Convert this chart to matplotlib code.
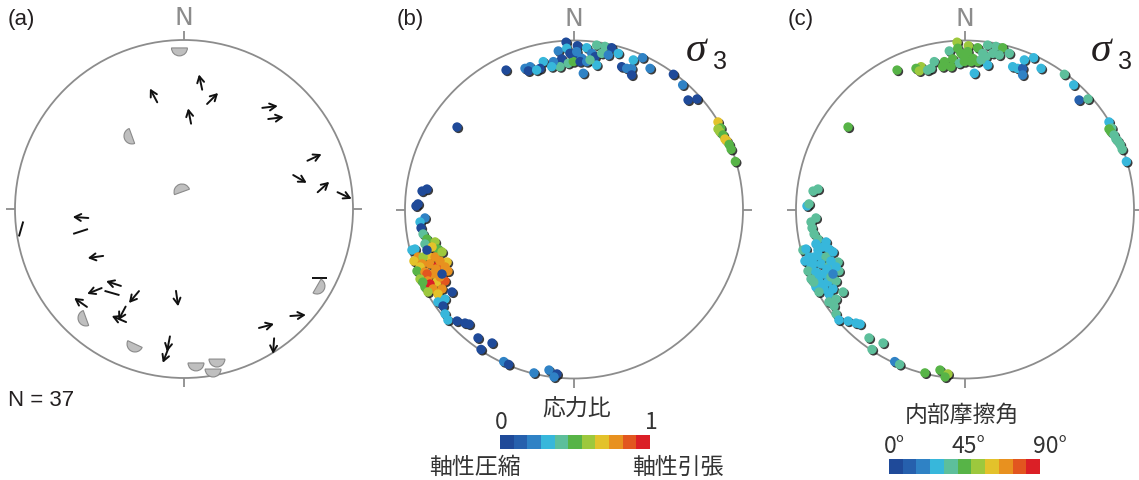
import numpy as np
import matplotlib
matplotlib.use('Agg')
import matplotlib.pyplot as plt
from matplotlib.patches import Circle, Wedge
from matplotlib.colors import ListedColormap, Normalize
from matplotlib import transforms
import matplotlib.colorbar as mcolorbar

# ---------------- data (equal-area net coordinates, primitive circle radius = 1) -------------
# Panel (a): slip directions
arrow_x = [0.098, -0.180, 0.169, 0.033, 0.509, 0.544, 0.772, 0.686, 0.825, 0.950,
           -0.612, -0.524, -0.417, -0.530, -0.612, -0.296, -0.367, -0.385, -0.041,
           -0.092, -0.109, 0.675, 0.488, 0.530]
arrow_y = [0.751, 0.672, 0.654, 0.550, 0.604, 0.538, 0.305, 0.178, 0.130, 0.080,
           -0.050, -0.284, -0.441, -0.485, -0.553, -0.521, -0.618, -0.651, -0.530,
           -0.799, -0.867, -0.630, -0.692, -0.811]
arrow_az = [348, 332, 45, 349, 83, 83, 65, 120, 48, 115,
            274, 262, 288, 248, 305, 220, 208, 293, 172,
            191, 201, 86, 75, 184]
line_x = [-0.964, -0.612, -0.426, 0.802]
line_y = [-0.118, -0.133, -0.497, -0.408]
line_az = [16, 72, 106, 90]
semi_x = [-0.027, -0.308, -0.012, -0.580, -0.290, 0.071, 0.195, 0.172, 0.787]
semi_y = [0.953, 0.432, 0.101, -0.645, -0.799, -0.911, -0.888, -0.947, -0.456]
semi_rot = [180, 110, 20, 110, 155, 180, 180, 180, 240]
n_total = 37

# Panels (b), (c): sigma-3 axes, stress ratio and internal friction angle
sig3_x = [-0.047, -0.093, -0.043, 0.020, 0.075, 0.134, 0.183, 0.223, 0.262, -0.004,
          0.045, 0.105, 0.124, 0.164, 0.203, -0.073, -0.034, -0.083, -0.122, -0.182,
          -0.132, -0.201, -0.260, -0.290, -0.270, -0.402, -0.221, -0.004, 0.036, 0.075,
          0.134, 0.095, 0.055, 0.282, 0.312, 0.341, 0.351, 0.406, 0.450, 0.341,
          0.588, 0.643, -0.024, 0.016, -0.692, 0.675, 0.728,
          0.852, 0.868, 0.852, 0.864, 0.882, 0.893, 0.905, 0.918, 0.930, 0.955,
          -0.899, -0.870, -0.935, -0.923, -0.882, -0.911, -0.905, -0.893, -0.959,
          -0.870, -0.941, -0.822, -0.805, -0.882, -0.840, -0.923, -0.864, -0.822, -0.781,
          -0.893, -0.947, -0.899, -0.852, -0.805, -0.751, -0.793, -0.911, -0.929, -0.882,
          -0.834, -0.817, -0.870, -0.746, -0.763, -0.911, -0.864, -0.811, -0.763, -0.793,
          -0.882, -0.852, -0.895, -0.834, -0.781, -0.864, -0.805, -0.781, -0.722, -0.763,
          -0.870,
          -0.805, -0.775, -0.763, -0.746, -0.692, -0.645, -0.621, -0.568, -0.485, -0.550,
          -0.416, -0.387, -0.237, -0.148, -0.101, -0.118]
sig3_y = [0.990, 0.938, 0.954, 0.969, 0.957, 0.973, 0.965, 0.957, 0.924, 0.904,
          0.895, 0.924, 0.904, 0.924, 0.914, 0.891, 0.865, 0.845, 0.875, 0.875,
          0.845, 0.835, 0.845, 0.835, 0.820, 0.825, 0.825, 0.875, 0.875, 0.875,
          0.855, 0.885, 0.806, 0.845, 0.835, 0.835, 0.885, 0.898, 0.835, 0.796,
          0.800, 0.737, 0.924, 0.934, 0.488, 0.648, 0.654,
          0.518, 0.482, 0.476, 0.459, 0.441, 0.417, 0.405, 0.385, 0.356, 0.284,
          0.109, 0.121, 0.021, 0.033, -0.050, -0.074, -0.109, -0.145, -0.240,
          -0.175, -0.234, -0.192, -0.234, -0.204, -0.222, -0.281, -0.275, -0.281, -0.251,
          -0.281, -0.305, -0.322, -0.322, -0.334, -0.311, -0.305, -0.340, -0.364, -0.370,
          -0.382, -0.352, -0.382, -0.364, -0.340, -0.411, -0.423, -0.429, -0.423, -0.399,
          -0.459, -0.441, -0.430, -0.470, -0.470, -0.488, -0.500, -0.382, -0.488, -0.530,
          -0.240,
          -0.547, -0.571, -0.618, -0.654, -0.660, -0.672, -0.678, -0.760, -0.790, -0.828,
          -0.900, -0.917, -0.967, -0.950, -0.973, -0.991]
stress_ratio = [0.04, 0.22, 0.31, 0.04, 0.31, 0.40, 0.40, 0.04, 0.31, 0.04,
                0.22, 0.22, 0.04, 0.40, 0.22, 0.04, 0.40, 0.40, 0.22, 0.31,
                0.31, 0.04, 0.22, 0.22, 0.04, 0.04, 0.31, 0.50, 0.04, 0.22,
                0.31, 0.40, 0.22, 0.04, 0.22, 0.22, 0.31, 0.22, 0.22, 0.04,
                0.04, 0.22, 0.04, 0.22, 0.04, 0.04, 0.04,
                0.68, 0.50, 0.59, 0.59, 0.50, 0.68, 0.68, 0.50, 0.50, 0.50,
                0.04, 0.04, 0.04, 0.04, 0.22, 0.31, 0.04, 0.40, 0.31,
                0.50, 0.31, 0.59, 0.50, 0.40, 0.68, 0.77, 0.68, 0.77, 0.59,
                0.59, 0.68, 0.77, 0.77, 0.96, 0.68, 0.77, 0.68, 0.50, 0.77,
                0.77, 0.77, 0.86, 0.77, 0.77, 0.59, 0.77, 0.68, 0.86, 0.77,
                0.50, 0.96, 0.50, 0.77, 0.77, 0.59, 0.68, 0.04, 0.04, 0.31,
                0.04,
                0.31, 0.04, 0.31, 0.31, 0.04, 0.04, 0.04, 0.04, 0.04, 0.04,
                0.22, 0.04, 0.22, 0.22, 0.04, 0.22]
friction_deg = [53, 37, 45, 53, 45, 37, 37, 45, 37, 45,
                45, 37, 37, 37, 37, 45, 37, 45, 45, 37,
                45, 37, 53, 45, 53, 45, 37, 45, 45, 45,
                29, 37, 29, 29, 29, 12, 29, 29, 29, 20,
                37, 29, 45, 45, 45, 12, 37,
                29, 37, 45, 45, 37, 37, 37, 37, 37, 29,
                37, 37, 29, 37, 37, 37, 37, 37, 37,
                37, 29, 29, 29, 29, 29, 29, 29, 37, 29,
                29, 29, 29, 29, 37, 37, 29, 29, 37, 29,
                29, 29, 29, 37, 29, 37, 29, 29, 37, 37,
                29, 29, 37, 29, 29, 37, 29, 20, 37, 37,
                29,
                37, 37, 37, 29, 29, 29, 29, 37, 37, 37,
                20, 37, 45, 45, 53, 45]

bin_colors = ['#1f4a99', '#2660ad', '#2f82c5', '#37b7db', '#5dbf9b', '#57b447',
              '#9dc83d', '#e3c22b', '#e8911f', '#e2561f', '#db1f26']

# ---------------- figure ----------------
W, H = 1139, 481
fig = plt.figure(figsize=(W / 100, H / 100), dpi=100)
cmap = ListedColormap(bin_colors)
GRAY = '#8c8c8c'
SANS = ['Liberation Sans', 'DejaVu Sans']
CJK = ['Noto Sans CJK JP', 'DejaVu Sans']


def net_axes(cx, cy, R=169, pad=1.08):
    h = R * pad
    ax = fig.add_axes([(cx - h) / W, (H - cy - h) / H, 2 * h / W, 2 * h / H])
    ax.set_xlim(-pad, pad)
    ax.set_ylim(-pad, pad)
    ax.axis('off')
    ax.add_patch(Circle((0, 0), 1, fill=False, ec=GRAY, lw=1.3, zorder=1))
    for az in (0, 90, 180, 270):
        s, c = np.sin(np.radians(az)), np.cos(np.radians(az))
        ax.plot([s, s * 1.055], [c, c * 1.055], color=GRAY, lw=1.3,
                clip_on=False, solid_capstyle='butt')
    ax.text(0, 1.135, 'N', ha='center', va='center', fontsize=18,
            color=GRAY, family=['DejaVu Sans'], clip_on=False)
    return ax


# ----- panel (a)
axa = net_axes(184, 210)
L = 0.092
for x, y, az in zip(arrow_x, arrow_y, arrow_az):
    dx, dy = np.sin(np.radians(az)), np.cos(np.radians(az))
    axa.annotate('', xy=(x + dx * L / 2, y + dy * L / 2),
                 xytext=(x - dx * L / 2, y - dy * L / 2),
                 arrowprops=dict(arrowstyle='->,head_length=0.45,head_width=0.25',
                                 lw=1.4, color='#111111', shrinkA=0, shrinkB=0))
for x, y, az in zip(line_x, line_y, line_az):
    dx, dy = np.sin(np.radians(az)), np.cos(np.radians(az))
    axa.plot([x - dx * L / 2, x + dx * L / 2], [y - dy * L / 2, y + dy * L / 2],
             color='#111111', lw=1.4, solid_capstyle='butt')
for x, y, rot in zip(semi_x, semi_y, semi_rot):
    axa.add_patch(Wedge((x, y), 0.047, rot, rot + 180, facecolor='#bfbfbf',
                        edgecolor='#8a8a8a', lw=0.8, zorder=3))

fig.text(8 / W, 1 - 19 / H, '(a)', ha='left', va='center', fontsize=16,
         family=SANS, color='#231f20')
fig.text(8 / W, 1 - 400 / H, f'N = {n_total}', ha='left', va='center',
         fontsize=16, family=SANS, color='#231f20')


# ----- panels (b), (c)
def sigma_panel(cx, values, vmax, label, lx, sx):
    ax = net_axes(cx, 210.5)
    norm = Normalize(0, vmax)
    shadow = transforms.offset_copy(ax.transData, fig=fig, x=1.4, y=-1.4, units='dots')
    ax.scatter(sig3_x, sig3_y, s=46, color='#1a1a1a', alpha=0.85,
               edgecolors='none', transform=shadow, zorder=4)
    ax.scatter(sig3_x, sig3_y, s=46, c=values, cmap=cmap, norm=norm,
               edgecolors='none', zorder=5)
    fig.text(lx / W, 1 - 19 / H, label, ha='left', va='center', fontsize=16,
             family=SANS, color='#231f20')
    fig.text(sx / W, 1 - 51 / H, 'σ', ha='left', va='center', fontsize=30,
             style='italic', family=['Liberation Serif', 'DejaVu Serif'], color='#231f20')
    fig.text((sx + 27) / W, 1 - 62 / H, '3', ha='left', va='center', fontsize=18,
             family=SANS, color='#231f20')
    return ax, norm


axb, norm_b = sigma_panel(574, stress_ratio, 1.0, '(b)', 397, 686)
axc, norm_c = sigma_panel(965, friction_deg, 90.0, '(c)', 788, 1091)

# colorbars
caxb = fig.add_axes([500 / W, 1 - 450 / H, 150 / W, 14 / H])
cbb = mcolorbar.ColorbarBase(caxb, cmap=cmap, norm=norm_b, orientation='horizontal')
cbb.set_ticks([])
cbb.outline.set_visible(False)
caxc = fig.add_axes([889 / W, 1 - 475 / H, 151 / W, 15 / H])
cbc = mcolorbar.ColorbarBase(caxc, cmap=cmap, norm=norm_c, orientation='horizontal')
cbc.set_ticks([])
cbc.outline.set_visible(False)

TXT = '#333333'
fig.text(577 / W, 1 - 409 / H, '応力比', ha='center', va='center', fontsize=16.5,
         family=CJK, color=TXT)
fig.text(501 / W, 1 - 423 / H, '0', ha='center', va='center', fontsize=16.5,
         family=CJK, color=TXT)
fig.text(651 / W, 1 - 423 / H, '1', ha='center', va='center', fontsize=16.5,
         family=CJK, color=TXT)
fig.text(475 / W, 1 - 467 / H, '軸性圧縮', ha='center', va='center', fontsize=16.5,
         family=CJK, color=TXT)
fig.text(678 / W, 1 - 467 / H, '軸性引張', ha='center', va='center', fontsize=16.5,
         family=CJK, color=TXT)
fig.text(962 / W, 1 - 415 / H, '内部摩擦角', ha='center', va='center', fontsize=16.5,
         family=CJK, color=TXT)
for lab, xl in zip(['0°', '45°', '90°'], [884, 951, 1033]):
    fig.text(xl / W, 1 - 447 / H, lab, ha='left', va='center', fontsize=16.5,
             family=CJK, color=TXT)

fig.savefig('out.png', dpi=100)
